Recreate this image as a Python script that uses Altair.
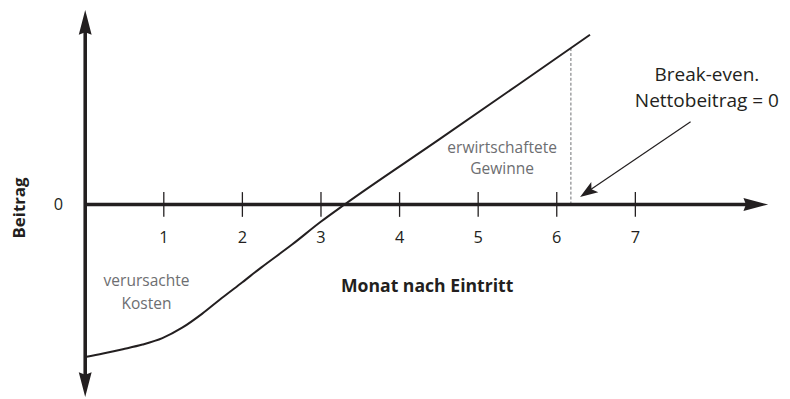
import altair as alt
import pandas as pd

# ---- data ----
curve_months = [0, 0.227, 0.479, 0.730, 0.982, 1.234, 1.486, 1.738, 2.0, 2.242, 2.632, 2.997, 3.30, 4.5, 5.5, 6.423]
curve_values = [-15.4, -15.05, -14.62, -14.15, -13.5, -12.45, -11.05, -9.45, -7.85, -6.35, -4.05, -1.75, 0, 6.55, 12.05, 17.15]
tick_months = [1, 2, 3, 4, 5, 6, 7]
tick_labels = ["1", "2", "3", "4", "5", "6", "7"]
break_even_month = 6.18
break_even_value = 15.85

# axis extents (data units)
x_axis_end = 8.45
y_axis_top = 17.9
y_axis_bottom = -17.6

INK = "#231f20"
GRAY = "#6d6e71"
FONT = "Open Sans"

xs = alt.Scale(domain=[-0.9824, 8.866], nice=False, zero=False)
ys = alt.Scale(domain=[-19.45, 19.65], nice=False, zero=False)
X = lambda f: alt.X(f, type="quantitative", scale=xs, axis=None)
Y = lambda f: alt.Y(f, type="quantitative", scale=ys, axis=None)

curve_df = pd.DataFrame({"m": curve_months, "v": curve_values})
axes_df = pd.DataFrame({
    "m": [0, 0], "m2": [x_axis_end, 0],
    "v": [0, y_axis_bottom], "v2": [0, y_axis_top],
})
ticks_df = pd.DataFrame({"m": tick_months, "lab": tick_labels, "v": [1.25] * 7, "v2": [-1.25] * 7, "lv": [-3.42] * 7})

ARROW = "M0,-1 L0.52,1 L0,0.8 L-0.52,1 Z"
HEAD = "M0,-1 L0.7,1 L0,0.55 L-0.7,1 Z"
arrows_df = pd.DataFrame({
    "m": [8.533, 0, 0],
    "v": [0, 18.4, -18.2],
    "a": [90, 0, 180],
})

curve = alt.Chart(curve_df).mark_line(interpolate="monotone", color=INK, strokeWidth=2).encode(x=X("m"), y=Y("v"))

axes = alt.Chart(axes_df).mark_rule(color=INK, strokeWidth=3.6).encode(
    x=X("m"), x2="m2", y=Y("v"), y2="v2")

arrowheads = alt.Chart(arrows_df).mark_point(
    shape=ARROW, filled=True, size=625, opacity=1, color=INK, strokeWidth=0
).encode(x=X("m"), y=Y("v"), angle=alt.Angle("a:Q", scale=None))

ticks = alt.Chart(ticks_df).mark_rule(color=INK, strokeWidth=1.3).encode(
    x=X("m"), y=Y("v"), y2="v2")

tick_text = alt.Chart(ticks_df).mark_text(font=FONT, fontSize=16.5, color=INK, baseline="middle").encode(
    x=X("m"), y=Y("lv"), text="lab:N")

be_df = pd.DataFrame({"m": [break_even_month], "v": [0], "v2": [break_even_value]})
dashed = alt.Chart(be_df).mark_rule(color=GRAY, strokeWidth=1, strokeDash=[3, 2]).encode(
    x=X("m"), y=Y("v"), y2="v2")

pointer_df = pd.DataFrame({"m": [7.703], "v": [8.35], "m2": [6.348], "v2": [1.05]})
pointer = alt.Chart(pointer_df).mark_rule(color=INK, strokeWidth=1.2).encode(
    x=X("m"), y=Y("v"), x2="m2", y2="v2")
pointer_head = alt.Chart(pd.DataFrame({"m": [6.39], "v": [1.25], "a": [235.8]})).mark_point(
    shape=HEAD, filled=True, size=324, opacity=1, color=INK, strokeWidth=0
).encode(x=X("m"), y=Y("v"), angle=alt.Angle("a:Q", scale=None))

zero_label = alt.Chart(pd.DataFrame({"m": [-0.34], "v": [-0.1], "t": ["0"]})).mark_text(
    font=FONT, fontSize=16.5, color=INK, baseline="middle").encode(x=X("m"), y=Y("v"), text="t:N")

y_title = alt.Chart(pd.DataFrame({"m": [-0.83], "v": [-0.35], "t": ["Beitrag"]})).mark_text(
    font=FONT, fontSize=17, fontWeight="bold", color=INK, angle=270, baseline="middle").encode(
    x=X("m"), y=Y("v"), text="t:N")

x_title = alt.Chart(pd.DataFrame({"m": [4.351], "v": [-8.3], "t": ["Monat nach Eintritt"]})).mark_text(
    font=FONT, fontSize=17.8, fontWeight="bold", color=INK, baseline="middle").encode(
    x=X("m"), y=Y("v"), text="t:N")

gray_df = pd.DataFrame({
    "m": [0.78, 0.78, 5.305, 5.305],
    "v": [-8.28, -10.55, 5.22, 3.05],
    "t": ["verursachte", "Kosten", "erwirtschaftete", "Gewinne"],
})
gray_text = alt.Chart(gray_df).mark_text(font=FONT, fontSize=15.7, color=GRAY, baseline="alphabetic").encode(
    x=X("m"), y=Y("v"), text="t:N")

be_text_df = pd.DataFrame({"m": [7.91, 7.91], "v": [12.45, 9.85], "t": ["Break-even.", "Nettobeitrag = 0"]})
be_text = alt.Chart(be_text_df).mark_text(font=FONT, fontSize=19.2, color=INK, baseline="alphabetic").encode(
    x=X("m"), y=Y("v"), text="t:N")

chart = alt.layer(
    dashed, curve, axes, ticks, arrowheads, tick_text, pointer, pointer_head,
    zero_label, y_title, x_title, gray_text, be_text
).properties(
    width=782, height=391, padding=0, background="white",
    autosize=alt.AutoSizeParams(type="none")
).configure_view(stroke=None)

chart.save("out.html", embed_options={"renderer": "svg", "actions": False})
